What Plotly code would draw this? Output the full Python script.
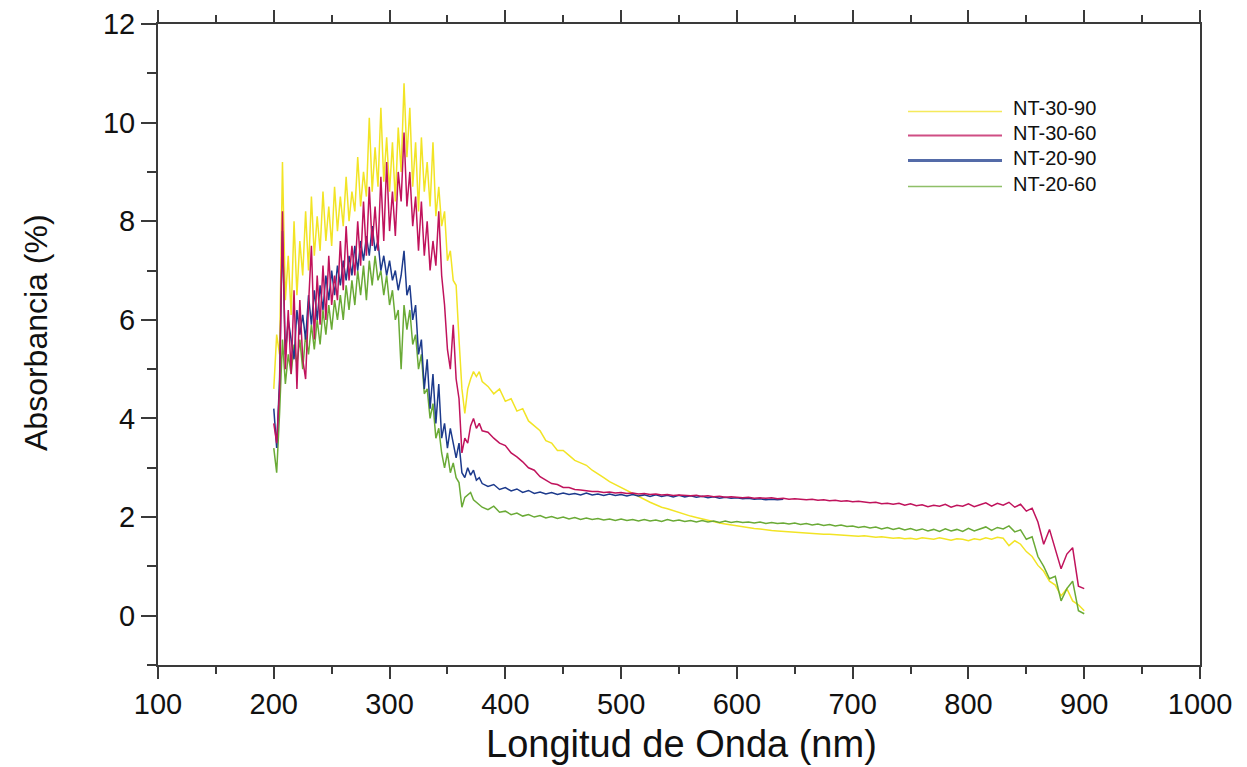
import plotly.graph_objects as go

# ---------------- data ----------------
# UV region sampled every 2.5 nm (200 - 380 nm), visible region every 5 nm (385 - 900 nm)
wl_uv = [200 + 2.5 * i for i in range(73)]
wl_vis = [385 + 5 * i for i in range(104)]
wl_vis_blue = [385 + 5 * i for i in range(52)]

nt_30_90_uv = [4.6, 5.7, 5.3, 9.2, 6.4, 7.3, 6.1, 8.0, 6.5, 7.6, 6.9, 8.2, 7.0, 8.5, 7.3, 8.1,
               7.4, 8.6, 7.6, 8.3, 7.5, 8.7, 7.8, 8.5, 7.9, 8.9, 8.0, 8.6, 8.2, 9.3, 8.3, 9.0,
               8.5, 10.1, 8.6, 9.5, 8.7, 10.3, 8.8, 9.7, 8.6, 9.6, 8.4, 9.9, 9.0, 10.8, 9.3, 10.3,
               8.7, 9.6, 8.2, 9.7, 8.6, 9.2, 8.3, 9.6, 8.1, 8.7, 7.9, 8.2, 7.2, 7.4, 6.8, 6.7,
               5.6, 4.6, 4.1, 4.6, 4.8, 4.95, 4.85, 4.95, 4.75]
nt_30_90_vis = [4.65, 4.5, 4.6, 4.35, 4.4, 4.15, 4.2, 3.95, 3.85, 3.75, 3.55, 3.5, 3.35, 3.35,
                3.25, 3.15, 3.1, 3.05, 2.95, 2.88, 2.8, 2.72, 2.66, 2.6, 2.53, 2.47, 2.41, 2.35,
                2.3, 2.25, 2.2, 2.17, 2.13, 2.09, 2.06, 2.02, 1.99, 1.96, 1.93, 1.91, 1.88, 1.86,
                1.84, 1.82, 1.8, 1.79, 1.77, 1.76, 1.74, 1.73, 1.72, 1.71, 1.7, 1.69, 1.68, 1.68,
                1.67, 1.66, 1.65, 1.65, 1.64, 1.63, 1.63, 1.62, 1.61, 1.62, 1.6, 1.59, 1.6, 1.58,
                1.57, 1.58, 1.56, 1.57, 1.55, 1.58, 1.56, 1.55, 1.58, 1.56, 1.53, 1.56, 1.55, 1.52,
                1.56, 1.54, 1.58, 1.55, 1.59, 1.57, 1.42, 1.52, 1.45, 1.3, 1.2, 1.02, 0.9, 0.7,
                0.62, 0.4, 0.55, 0.3, 0.22, 0.1]

nt_30_60_uv = [3.9, 3.5, 4.6, 8.2, 5.0, 6.2, 4.9, 6.6, 4.6, 6.4, 5.2, 4.8, 6.3, 7.5, 5.6, 6.9,
               5.9, 7.1, 6.0, 7.3, 6.3, 6.9, 6.4, 7.6, 6.6, 7.9, 6.8, 7.5, 6.9, 8.0, 7.1, 8.4,
               7.3, 8.7, 7.5, 8.3, 7.4, 8.9, 7.6, 9.2, 7.8, 8.6, 7.7, 9.0, 8.4, 9.8, 8.3, 9.0,
               7.9, 8.5, 7.4, 8.4, 7.3, 8.0, 7.0, 7.6, 7.1, 8.2, 6.9, 6.3, 5.4, 5.0, 5.9, 4.8,
               4.4, 3.3, 3.6, 3.5, 3.85, 4.0, 3.8, 3.9, 3.75]
nt_30_60_vis = [3.72, 3.6, 3.5, 3.45, 3.3, 3.22, 3.12, 3.0, 2.95, 2.82, 2.75, 2.68, 2.66, 2.6,
                2.6, 2.56, 2.55, 2.53, 2.52, 2.52, 2.5, 2.51, 2.49, 2.5, 2.48, 2.49, 2.47, 2.48,
                2.46, 2.47, 2.45, 2.46, 2.44, 2.45, 2.44, 2.43, 2.44, 2.42, 2.43, 2.41, 2.42, 2.4,
                2.41, 2.4, 2.39, 2.4, 2.38, 2.39, 2.38, 2.39, 2.37, 2.38, 2.36, 2.37, 2.36, 2.35,
                2.36, 2.34, 2.35, 2.33, 2.34, 2.32, 2.33, 2.31, 2.32, 2.3, 2.29, 2.3, 2.27, 2.28,
                2.26, 2.28, 2.24, 2.27, 2.23, 2.25, 2.21, 2.24, 2.22, 2.26, 2.2, 2.24, 2.22, 2.27,
                2.21, 2.25, 2.29, 2.22, 2.28, 2.24, 2.3, 2.2, 2.26, 2.12, 2.18, 1.9, 1.45, 1.75,
                1.35, 0.95, 1.25, 1.38, 0.6, 0.55]

nt_20_90_uv = [4.2, 3.4, 4.8, 7.8, 5.3, 6.0, 5.6, 5.2, 6.2, 5.7, 6.1, 5.6, 6.5, 5.9, 6.6, 6.0,
               6.7, 6.2, 6.9, 6.4, 7.0, 6.5, 7.1, 6.7, 7.2, 6.8, 7.3, 6.9, 7.5, 7.0, 7.6, 7.2,
               7.7, 7.3, 7.9, 7.4, 7.6, 7.0, 7.3, 6.9, 7.2, 6.8, 7.0, 6.6, 6.9, 7.4, 6.5, 6.7,
               6.0, 6.3, 5.3, 5.6, 4.6, 5.2, 4.2, 4.9, 3.9, 4.7, 3.6, 3.9, 3.4, 3.8, 3.5, 3.2,
               3.5, 2.9, 2.8, 3.0, 2.85, 2.95, 2.75, 2.8, 2.68]
nt_20_90_vis = [2.62, 2.66, 2.56, 2.6, 2.53, 2.57, 2.5, 2.54, 2.48, 2.51, 2.47, 2.5, 2.46, 2.49,
                2.46, 2.48, 2.45, 2.49, 2.45, 2.47, 2.44, 2.47, 2.44, 2.46, 2.43, 2.46, 2.43, 2.45,
                2.42, 2.45, 2.42, 2.44, 2.41, 2.44, 2.41, 2.43, 2.4, 2.42, 2.39, 2.41, 2.38, 2.4,
                2.38, 2.39, 2.37, 2.38, 2.36, 2.37, 2.35, 2.36, 2.35, 2.36]

nt_20_60_uv = [3.4, 2.9, 4.1, 5.6, 4.7, 5.3, 4.9, 5.5, 5.1, 5.6, 5.0, 5.7, 5.3, 5.9, 5.4, 6.0,
               5.5, 6.2, 5.7, 6.3, 5.8, 6.4, 6.0, 6.5, 6.0, 6.7, 6.2, 6.8, 6.3, 7.0, 6.5, 7.1,
               6.4, 7.2, 6.7, 7.3, 6.8, 7.0, 6.5, 6.9, 6.3, 6.6, 6.0, 6.2, 5.0, 6.3, 5.8, 6.2,
               5.5, 5.7, 5.0, 5.3, 4.5, 4.6, 4.0, 4.3, 3.6, 3.8, 3.3, 3.0, 3.3, 2.9, 3.1, 2.8,
               2.7, 2.2, 2.4, 2.45, 2.5, 2.35, 2.3, 2.25, 2.2]
nt_20_60_vis = [2.15, 2.22, 2.1, 2.12, 2.05, 2.08, 2.02, 2.05, 2.0, 2.03, 1.98, 2.01, 1.97, 2.0,
                1.96, 1.99, 1.95, 1.98, 1.95, 1.97, 1.94, 1.96, 1.93, 1.96, 1.93, 1.95, 1.92, 1.95,
                1.92, 1.94, 1.91, 1.95, 1.92, 1.94, 1.91, 1.93, 1.9, 1.93, 1.9, 1.92, 1.89, 1.92,
                1.89, 1.91, 1.89, 1.9, 1.88, 1.9, 1.87, 1.89, 1.87, 1.88, 1.86, 1.88, 1.85, 1.87,
                1.84, 1.86, 1.83, 1.85, 1.82, 1.84, 1.81, 1.82, 1.79, 1.81, 1.78, 1.8, 1.76, 1.79,
                1.75, 1.78, 1.74, 1.77, 1.73, 1.76, 1.72, 1.75, 1.71, 1.76, 1.72, 1.75, 1.71, 1.77,
                1.72, 1.76, 1.8, 1.73, 1.79, 1.76, 1.82, 1.7, 1.74, 1.55, 1.6, 1.2, 1.0, 0.75,
                0.8, 0.3, 0.55, 0.7, 0.1, 0.04]

names = ["NT-30-90", "NT-30-60", "NT-20-90", "NT-20-60"]
colors = ["#F2E425", "#C0135C", "#1C3A8C", "#6AAA36"]
legend_widths = [1.5, 2.2, 2.8, 1.5]

series = {
    "NT-30-90": (wl_uv + wl_vis, nt_30_90_uv + nt_30_90_vis),
    "NT-30-60": (wl_uv + wl_vis, nt_30_60_uv + nt_30_60_vis),
    "NT-20-90": (wl_uv + wl_vis_blue, nt_20_90_uv + nt_20_90_vis),
    "NT-20-60": (wl_uv + wl_vis, nt_20_60_uv + nt_20_60_vis),
}
draw_order = ["NT-30-90", "NT-20-60", "NT-20-90", "NT-30-60"]

x_ticks = [100, 200, 300, 400, 500, 600, 700, 800, 900, 1000]
y_ticks = [0, 2, 4, 6, 8, 10, 12]

# ---------------- figure ----------------
fig = go.Figure()
for nm in draw_order:
    xs, ys = series[nm]
    c = colors[names.index(nm)]
    fig.add_trace(go.Scatter(x=xs, y=ys, mode="lines", name=nm,
                             line=dict(color=c, width=1.5), showlegend=False))

# The html page body has an 8px margin: the figure is sized and placed to compensate.
OFF = 8
W, H = 1247 - OFF, 767 - OFF
L, T = 158 - OFF, 24 - OFF
R = W - (1200 - OFF)
B = H - (665 - OFF)
pw, ph = W - L - R, H - T - B
def px(x):
    return (x - OFF - L) / pw
def py(y):
    return (H - B - (y - OFF)) / ph

row_y = [111.5, 135.5, 160.5, 186.5]
for i, nm in enumerate(names):
    fig.add_shape(type="line", xref="paper", yref="paper",
                  x0=px(908), x1=px(1002), y0=py(row_y[i]), y1=py(row_y[i]),
                  line=dict(color=colors[i], width=legend_widths[i]), opacity=0.75)
    fig.add_annotation(xref="paper", yref="paper", x=px(1011), y=py(row_y[i] - 3),
                       text=nm, showarrow=False, xanchor="left", yanchor="middle",
                       font=dict(family="Liberation Sans Narrow, Liberation Sans, Arial", size=20,
                                 color="#111111"))

fig.add_annotation(xref="paper", yref="paper", x=px(681), y=py(744),
                   text="Longitud de Onda (nm)", showarrow=False,
                   xanchor="center", yanchor="middle",
                   font=dict(family="Liberation Sans, Arial", size=38, color="#111111"))
fig.add_annotation(xref="paper", yref="paper", x=px(36), y=py(333),
                   text="Absorbancia (%)", showarrow=False, textangle=-90,
                   xanchor="center", yanchor="middle",
                   font=dict(family="Liberation Sans, Arial", size=32, color="#111111"))

axis_common = dict(showgrid=False, zeroline=False, showline=True, linecolor="#3a3a3a",
                   linewidth=2, ticks="outside", tickcolor="#3a3a3a", tickwidth=1.5,
                   automargin=False,
                   tickfont=dict(family="Liberation Sans, Arial", size=29, color="#111111"))

fig.update_xaxes(range=[100, 1000], tickmode="array", tickvals=x_ticks,
                 ticktext=[str(v) for v in x_ticks], ticklen=12, mirror="ticks",
                 minor=dict(dtick=50, tick0=100, ticks="outside", ticklen=7,
                            tickcolor="#3a3a3a", tickwidth=1.5),
                 **axis_common)
fig.update_yaxes(range=[-1, 12], tickmode="array", tickvals=y_ticks,
                 ticktext=[str(v) for v in y_ticks], ticklen=15, mirror=True,
                 minor=dict(dtick=1, tick0=-1, ticks="outside", ticklen=9,
                            tickcolor="#3a3a3a", tickwidth=1.5),
                 **axis_common)

fig.update_layout(width=W, height=H, margin=dict(l=L, r=R, t=T, b=B),
                  paper_bgcolor="white", plot_bgcolor="white", showlegend=False)

fig.write_html("out.html")
